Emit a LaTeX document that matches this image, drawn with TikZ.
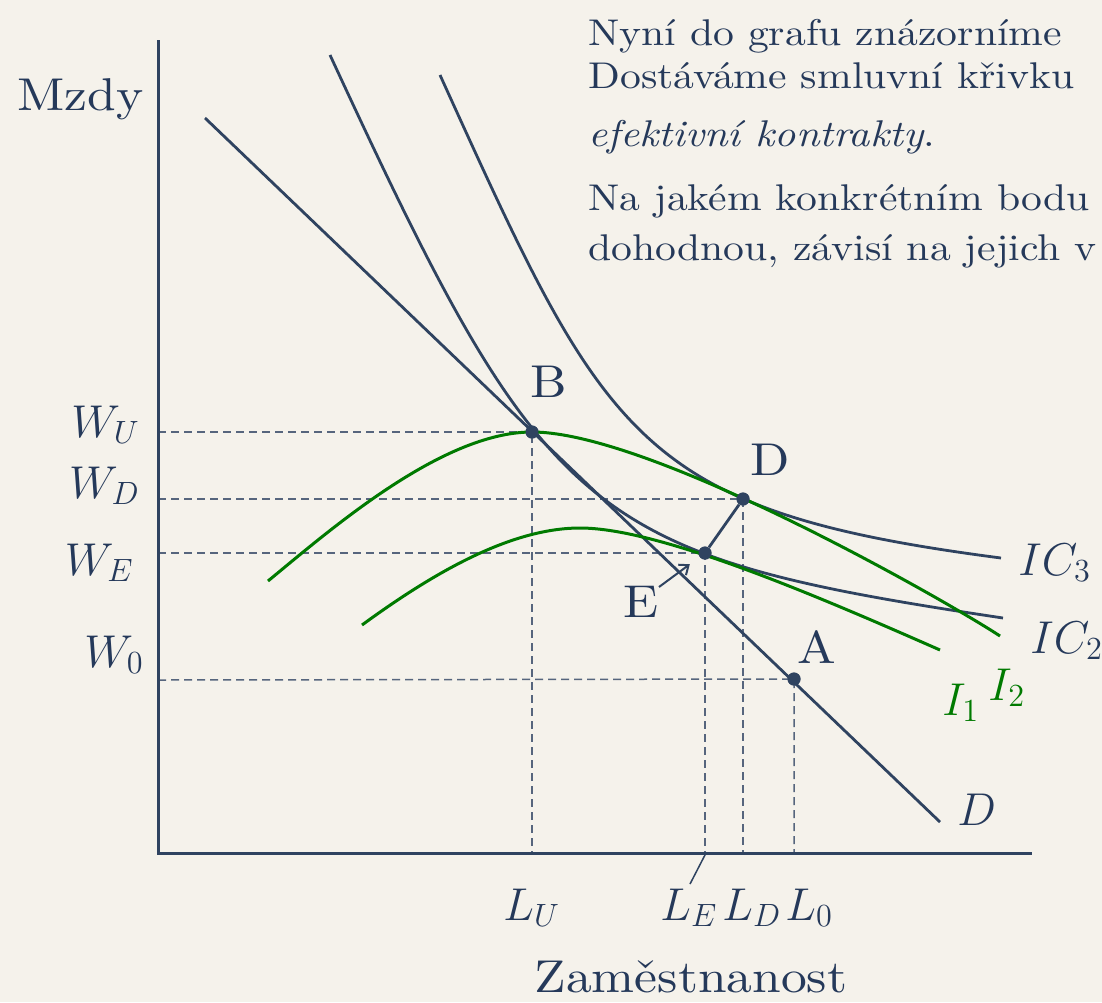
\RequirePackage{fix-cm}
\documentclass[tikz,border=0pt]{standalone}
\usepackage{fontspec}
\setmainfont{lmroman10-regular.otf}[FakeStretch=1.12, ItalicFont=lmroman10-italic.otf, BoldFont=lmroman10-bold.otf]
\usetikzlibrary{arrows.meta}
\definecolor{bgc}{HTML}{F5F2EB}
\definecolor{navyc}{HTML}{2F4360}
\definecolor{textc}{HTML}{25395A}
\definecolor{dashc}{HTML}{56657D}
\definecolor{greenc}{RGB}{0,122,0}
\tikzset{
  axisline/.style={draw=navyc, line width=1.5pt},
  curveline/.style={draw=navyc, line width=1.4pt},
  greenline/.style={draw=greenc, line width=1.5pt},
  guide/.style={draw=dashc, line width=0.75pt, dash pattern=on 4pt off 2.5pt},
  dot/.style={circle, fill=navyc, inner sep=0pt, minimum size=6.5pt},
  lab/.style={text=textc, font=\fontsize{23}{27}\selectfont, inner sep=0pt},
  glab/.style={text=greenc, font=\fontsize{23}{27}\selectfont, inner sep=0pt},
  para/.style={text=textc, font=\fontsize{18.6}{23}\selectfont, inner sep=0pt, anchor=base west},
}
\begin{document}
\begin{tikzpicture}[x=0.5pt,y=-0.5pt]
\fill[bgc] (0,0) rectangle (1102,1002);
\clip (0,0) rectangle (1102,1002);

% points
\node[dot] (B) at (532,432) {};
\node[dot] (D) at (743,499) {};
\node[dot] (E) at (705,553) {};
\node[dot] (A) at (794,679) {};

% axis coordinates
\coordinate (O) at (158,853);
\coordinate (ytop) at (158,40);
\coordinate (xend) at (1032,853);
\coordinate (wU) at (158,432);
\coordinate (wD) at (158,499);
\coordinate (wE) at (158,553);
\coordinate (w0) at (158,680);
\coordinate (lU) at (532,853);
\coordinate (lD) at (743,853);
\coordinate (lE) at (705,853);
\coordinate (l0) at (794,853);

% dashed guides
\draw[guide] (wU) -- (B.center) -- (lU);
\draw[guide] (wD) -- (D.center) -- (lD);
\draw[guide] (wE) -- (E.center) -- (lE);
\draw[guide] (w0) -- (A.center) -- (l0);

% axes
\draw[axisline] (ytop) -- (O) -- (xend);

% demand line
\coordinate (dtop) at (205,118);
\coordinate (dbot) at (940,822);
\draw[curveline] (dtop) -- (dbot);

% IC2 (through B and E)
\draw[curveline] (330,55) .. controls (546.2,522) and (582.8,555) .. (1003,618);
% IC3 (through D)
\draw[curveline] (440,75) .. controls (605.3,438.7) and (634.4,510.3) .. (1001,558);

% green I2
\draw[greenline] (268,581) .. controls (330,530) and (442,432) .. (B.center)
  .. controls (652,432) and (950,603) .. (1000,636);
% green I1
\coordinate (i1top) at (580,528);
\draw[greenline] (362,625) .. controls (432,573.9) and (510,528) .. (i1top)
  .. controls (660,528) and (820,597.2) .. (940,650);

% contract segment
\draw[curveline] (E) -- (D);

% redraw dots on top
\fill[navyc] (B) circle (3.25pt) (D) circle (3.25pt) (E) circle (3.25pt) (A) circle (3.25pt);

% point labels
\node[lab, anchor=base] (Blab) at (549,397) {B};
\node[lab, anchor=base] (Dlab) at (770,475) {D};
\node[lab, anchor=base] (Elab) at (641,617) {E};
\node[lab, anchor=base] (Alab) at (817,663) {A};
\coordinate (etail) at (659,587);
\draw[draw=navyc, line width=1pt, -{Straight Barb[length=4pt,width=6.5pt]}, shorten >=6pt] (etail) -- (E);

% L_E slash
\coordinate (leA) at (706,853);
\coordinate (leB) at (690,884);
\draw[draw=navyc, line width=0.75pt] (leA) -- (leB);

% axis labels
\node[lab, anchor=base west] (mzdy) at (17,110) {Mzdy};
\node[lab, anchor=base] (zam) at (691,992) {Zaměstnanost};

\node[lab, anchor=base east] (WU) at (140,437) {$W_U$};
\node[lab, anchor=base east] (WD) at (140,498) {$W_D$};
\node[lab, anchor=base east] (WE) at (134,575) {$W_E$};
\node[lab, anchor=base east] (W0) at (144,667) {$W_0$};

\node[lab, anchor=base west] (LU) at (503,920) {$L_U$};
\node[lab, anchor=base west] (LE) at (660,920) {$L_E$};
\node[lab, anchor=base west] (LD) at (722,920) {$L_D$};
\node[lab, anchor=base west] (L0) at (785,920) {$L_0$};

% curve labels
\node[lab, anchor=base west] (IC3) at (1018,575) {$IC_3$};
\node[lab, anchor=base west] (IC2) at (1030,653) {$IC_2$};
\node[glab, anchor=base west] (I2) at (988,700) {$I_2$};
\node[glab, anchor=base west] (I1) at (942,715) {$I_1$};
\node[lab, anchor=base west] (Dd) at (957,825) {$D$};

% text block
\node[para] (t1) at (588,45) {Nyní do grafu znázorníme};
\node[para] (t2) at (588,88) {Dostáváme smluvní křivku};
\node[para] (t3) at (588,146) {\itshape efektivní kontrakty\upshape.};
\node[para] (t4) at (588,210) {Na jakém konkrétním bodu};
\node[para] (t5) at (588,260) {dohodnou, závisí na jejich v};
\end{tikzpicture}
\end{document}
